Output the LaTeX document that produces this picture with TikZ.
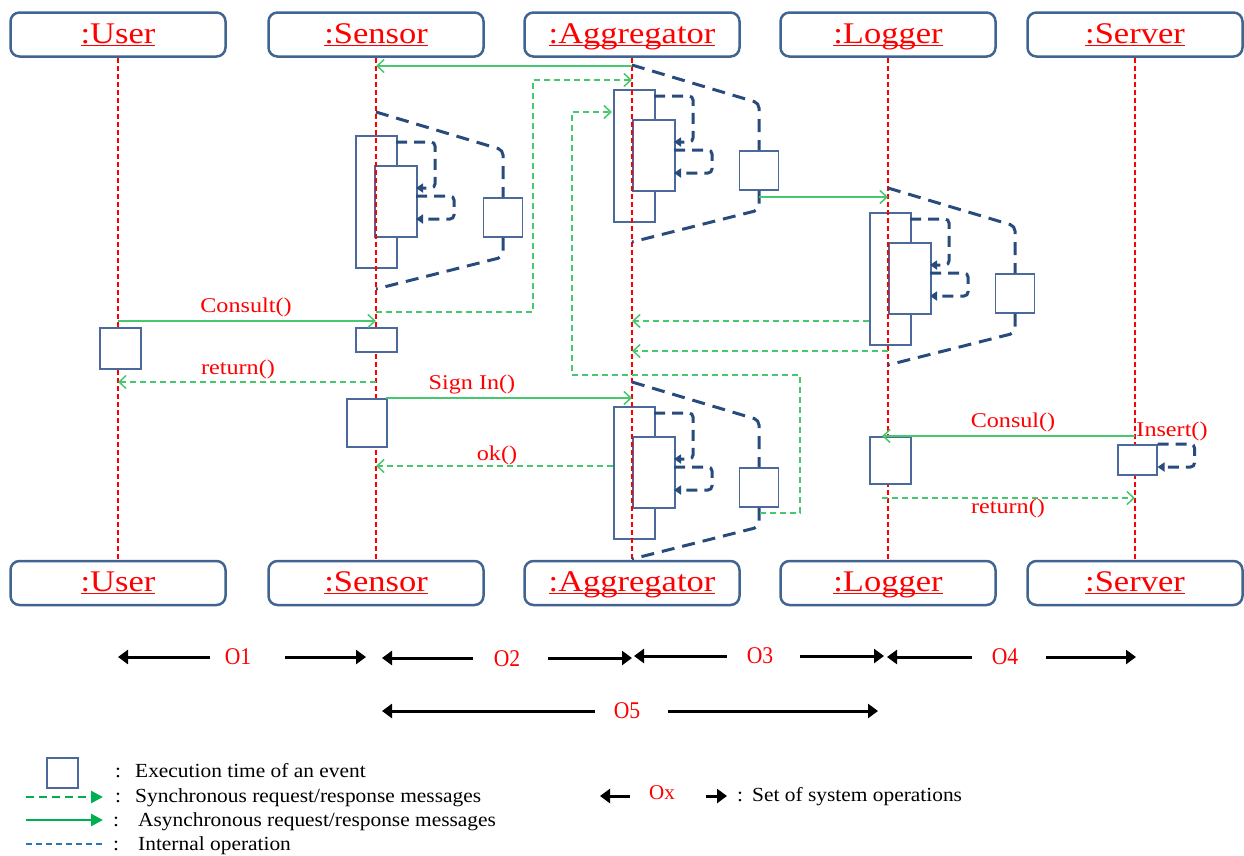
\documentclass[tikz,border=0pt]{standalone}
\usepackage{fontspec}
\setmainfont{Liberation Serif}
\usepackage{graphicx}
\usetikzlibrary{arrows.meta}
\definecolor{lred}{RGB}{255,0,0}
\definecolor{hdrblue}{RGB}{65,100,145}
\definecolor{boxblue}{RGB}{75,105,155}
\definecolor{intblue}{RGB}{40,75,125}
\definecolor{msggreen}{RGB}{70,200,110}
\definecolor{leggreen}{RGB}{0,176,80}
\definecolor{legblue}{RGB}{46,117,182}
\newcommand\hdrtext[1]{\scalebox{1.15}[1]{\fontsize{30}{32}\selectfont\underline{\smash{#1}\vphantom{:U}}}}
\newcommand\msgtext[1]{\scalebox{1.15}[1]{\fontsize{21}{23}\selectfont #1}}
\newcommand\legtext[1]{\scalebox{1.07}[1]{\fontsize{20}{22}\selectfont #1}}
\newcommand\optext[1]{\scalebox{0.9}[1]{\fontsize{24}{26}\selectfont #1}}
\tikzset{
 hdr/.style={draw=hdrblue, line width=2.5pt, rounded corners=9pt, minimum width=215pt, minimum height=44pt, inner sep=0pt, text=lred},
 life/.style={draw=lred, line width=1.2pt, dash pattern=on 5pt off 3pt},
 ebox/.style={draw=boxblue, line width=1.5pt, fill=white, inner sep=0pt, anchor=north west},
 abox/.style={draw=boxblue, line width=1.5pt, inner sep=0pt, anchor=north west},
 intop/.style={draw=intblue, line width=3pt, dash pattern=on 13pt off 8pt, rounded corners=5pt},
 selfop/.style={draw=intblue, line width=3pt, dash pattern=on 11pt off 7pt, rounded corners=4pt, -{Triangle[length=7pt,width=9pt]}},
 amsg/.style={draw=msggreen, line width=1.5pt, -{Straight Barb[length=7pt,width=13pt]}},
 smsg/.style={draw=msggreen, line width=1.5pt, dash pattern=on 6pt off 4pt, -{Straight Barb[length=7pt,width=13pt]}},
 mlabel/.style={text=lred, inner sep=0pt},
 oper/.style={draw=black, line width=3pt, -{Triangle[length=10pt,width=14pt]}},
 legtxt/.style={inner sep=0pt, anchor=base west},
 legcol/.style={inner sep=0pt, anchor=base},
}
\newcommand\actstack[3]{%
 \node[abox, minimum width=41pt, minimum height=132pt] (#1o) at (#2,#3) {};
 \node[ebox, minimum width=42pt, minimum height=71pt] (#1i) at ({#2+19},{#3+30}) {};
}
\newcommand\actself[3]{%
 \draw[selfop] ({#2+41},{#3+7}) -- ({#2+80},{#3+7}) -- ({#2+80},{#3+53}) -- ({#2+61},{#3+53});
 \draw[selfop] ({#2+61},{#3+61}) -- ({#2+99},{#3+61}) -- ({#2+99},{#3+84}) -- ({#2+61},{#3+84});
}
\newcommand\inttrap[3]{%
 \node[ebox, minimum width=39pt, minimum height=39pt, anchor=north] (#1) at ({#2+127},{#3+85}) {};
 \draw[intop] (#2,#3) -- ({#2+127},{#3+38}) -- (#1.north);
 \draw[intop] (#1.south) -- ({#2+127},{#3+145}) -- (#2,{#3+177});
}
\begin{document}
\begin{tikzpicture}[x=1pt,y=-1pt]
\useasboundingbox (0,0) rectangle (1244,855);
% headers
\node[hdr] (uT) at (118,34.5) {\hdrtext{:User}};
\node[hdr] (sT) at (376,34.5) {\hdrtext{:Sensor}};
\node[hdr] (aT) at (632,34.5) {\hdrtext{:Aggregator}};
\node[hdr] (lT) at (888,34.5) {\hdrtext{:Logger}};
\node[hdr] (vT) at (1135,34.5) {\hdrtext{:Server}};
\node[hdr] (uB) at (118,583) {\hdrtext{:User}};
\node[hdr] (sB) at (376,583) {\hdrtext{:Sensor}};
\node[hdr] (aB) at (632,583) {\hdrtext{:Aggregator}};
\node[hdr] (lB) at (888,583) {\hdrtext{:Logger}};
\node[hdr] (vB) at (1135,583) {\hdrtext{:Server}};
% activation stacks (lifeline shows through)
\actstack{sA}{355}{135}
\actstack{aA}{613}{89}
\actstack{lA}{869}{212}
\actstack{bA}{613}{406}
% lifelines
\draw[life] (uT.south) -- (uB.north);
\draw[life] (sT.south) -- (sB.north);
\draw[life] (aT.south) -- (aB.north);
\draw[life] (lT.south) -- (lB.north);
\draw[life] (vT.south) -- (vB.north);
% internal operations
\inttrap{sX}{376}{112}
\inttrap{aX}{632}{65}
\inttrap{lX}{888}{188}
\inttrap{bX}{632}{382}
\actself{sA}{355}{135}
\actself{aA}{613}{89}
\actself{lA}{869}{212}
\actself{bA}{613}{406}
% execution boxes
\node[ebox, minimum width=41pt, minimum height=41pt] (uE) at (99,327) {};
\node[ebox, minimum width=41pt, minimum height=24pt] (sE) at (355,327) {};
\node[ebox, minimum width=40pt, minimum height=48pt] (sF) at (346,398) {};
\node[ebox, minimum width=41pt, minimum height=47pt] (lE) at (869,436) {};
\node[ebox, minimum width=39pt, minimum height=30pt] (vE) at (1117,444) {};
% messages
\coordinate (m1a) at (632,66); \coordinate (m1b) at (376,66);
\draw[amsg] (m1a) -- (m1b);
\coordinate (m2a) at (376,312); \coordinate (m2b) at (533,80); \coordinate (m2c) at (632,80);
\draw[smsg] (m2a) -| (m2b) -- (m2c);
\coordinate (m3a) at (760,513); \coordinate (m3b) at (800,375); \coordinate (m3c) at (572,112); \coordinate (m3d) at (612,112);
\draw[smsg] (m3a) -| (m3b) -| (m3c) -- (m3d);
\coordinate (m4a) at (759,197); \coordinate (m4b) at (888,197);
\draw[amsg] (m4a) -- (m4b);
\coordinate (m5a) at (869,321); \coordinate (m5b) at (632,321);
\draw[smsg] (m5a) -- (m5b);
\coordinate (m6a) at (888,351); \coordinate (m6b) at (632,351);
\draw[smsg] (m6a) -- (m6b);
\coordinate (m7a) at (118,321); \coordinate (m7b) at (376,321);
\draw[amsg] (m7a) -- (m7b);
\coordinate (m8a) at (376,382); \coordinate (m8b) at (118,382);
\draw[smsg] (m8a) -- (m8b);
\coordinate (m9a) at (386,398); \coordinate (m9b) at (632,398);
\draw[amsg] (m9a) -- (m9b);
\coordinate (m10a) at (613,466); \coordinate (m10b) at (376,466);
\draw[smsg] (m10a) -- (m10b);
\coordinate (m11a) at (1135,436); \coordinate (m11b) at (882,436);
\draw[amsg] (m11a) -- (m11b);
\coordinate (m12a) at (882,498); \coordinate (m12b) at (1135,498);
\draw[smsg] (m12a) -- (m12b);
\draw[selfop] (vE.north east) -- ++(37,0) -- ++(0,23) -- ++(-37,0);
% message labels
\node[mlabel] (lb1) at (246,307) {\msgtext{Consult()}};
\node[mlabel] (lb2) at (238,369) {\msgtext{return()}};
\node[mlabel] (lb3) at (472,384) {\msgtext{Sign In()}};
\node[mlabel] (lb4) at (497,455) {\msgtext{ok()}};
\node[mlabel] (lb5) at (1013,422) {\msgtext{Consul()}};
\node[mlabel] (lb6) at (1172,431) {\msgtext{Insert()}};
\node[mlabel] (lb7) at (1008,508) {\msgtext{return()}};
% operation sets
\node[mlabel] (O1) at (238,657) {\optext{O1}};
\node[mlabel] (O2) at (507,659) {\optext{O2}};
\node[mlabel] (O3) at (760,656) {\optext{O3}};
\node[mlabel] (O4) at (1005,657) {\optext{O4}};
\node[mlabel] (O5) at (627,711) {\optext{O5}};
\draw[oper] (210,657) -- (118,657);
\draw[oper] (285,657) -- (366,657);
\draw[oper] (473,658) -- (382,658);
\draw[oper] (548,658) -- (632,658);
\draw[oper] (727,656) -- (634,656);
\draw[oper] (800,656) -- (884,656);
\draw[oper] (972,657) -- (887,657);
\draw[oper] (1046,657) -- (1136,657);
\draw[oper] (595,711) -- (382,711);
\draw[oper] (668,711) -- (878,711);
% legend
\node[ebox, minimum width=31pt, minimum height=30pt] (lgbox) at (46,757) {};
\draw[leggreen, line width=2.5pt, dash pattern=on 8pt off 5pt, -{Triangle[length=12pt,width=12pt]}] (26,797) -- (103,797);
\draw[leggreen, line width=2.5pt, -{Triangle[length=12pt,width=12pt]}] (26,820) -- (103,820);
\draw[legblue, line width=2pt, dash pattern=on 6pt off 4pt] (26,844) -- (103,844);
\node[legcol] (c1) at (118,777) {\legtext{:}};
\node[legtxt] (t1) at (135,777) {\legtext{Execution time of an event}};
\node[legcol] (c2) at (118,802) {\legtext{:}};
\node[legtxt] (t2) at (135,802) {\legtext{Synchronous request/response messages}};
\node[legcol] (c3) at (116,826) {\legtext{:}};
\node[legtxt] (t3) at (138,826) {\legtext{Asynchronous request/response messages}};
\node[legcol] (c4) at (116,850) {\legtext{:}};
\node[legtxt] (t4) at (138,850) {\legtext{Internal operation}};
\node[mlabel] (ox) at (662,793) {\fontsize{21}{23}\selectfont Ox};
\draw[oper] (630,796) -- (600,796);
\draw[oper] (706,796) -- (727,796);
\node[legcol] (c5) at (740,801) {\legtext{:}};
\node[legtxt] (t5) at (752,801) {\legtext{Set of system operations}};
\end{tikzpicture}
\end{document}
